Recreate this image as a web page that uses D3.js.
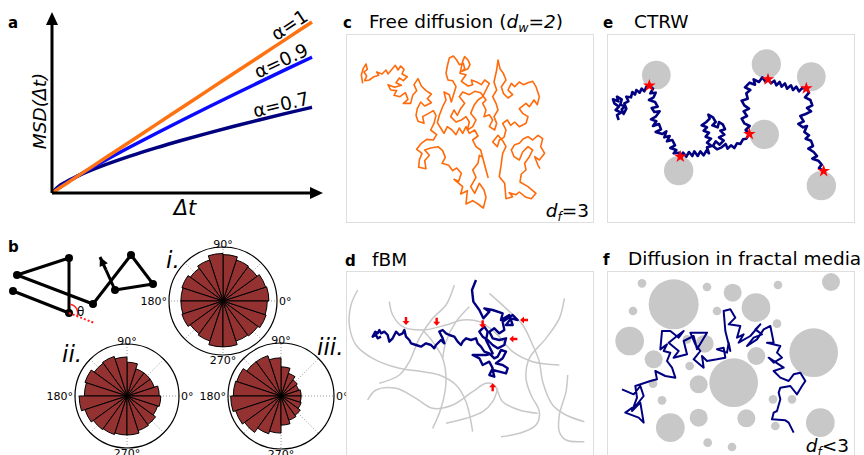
<!DOCTYPE html>
<html>
<head>
<meta charset="utf-8">
<script src="https://cdn.jsdelivr.net/npm/d3@7"></script>
<style>
body{margin:0;background:#fff;}
svg{font-family:"DejaVu Sans",sans-serif;}
</style>
</head>
<body>
<script>
// ---- panel a : MSD curves
var dtValues = [0,0.25,0.5,1,2,3,4,5,6,7,8,9,10];
var msdA1  = [0,0.25,0.5,1,2,3,4,5,6,7,8,9,10];
var msdA09 = [0,0.287,0.536,1,1.866,2.688,3.482,4.257,5.016,5.762,6.498,7.225,7.943];
var msdA07 = [0,0.379,0.616,1,1.625,2.158,2.639,3.085,3.505,3.905,4.287,4.656,5.012];
var alphaLabels = ["\u03b1=1","\u03b1=0.9","\u03b1=0.7"];

// ---- panel b : turning angle histograms (20 bins, 0..360 deg, fraction of max radius)
var histI   = [0.85,0.83,0.78,0.80,0.86,0.88,0.80,0.75,0.80,0.78,0.78,0.80,0.75,0.78,0.85,0.85,0.78,0.80,0.84,0.82];
var histII  = [0.62,0.55,0.55,0.55,0.65,0.75,0.80,0.78,0.85,0.82,0.92,0.85,0.80,0.78,0.75,0.75,0.70,0.68,0.62,0.65];
var histIII = [0.38,0.35,0.38,0.45,0.55,0.72,0.80,0.80,0.88,0.90,0.95,0.90,0.85,0.75,0.70,0.55,0.48,0.45,0.40,0.38];
var thetaLabels = ["0\u00b0","90\u00b0","180\u00b0","270\u00b0"];
var sketchPoints = [[13,291],[69,313],[69,258],[17,275],[93,304],[131,255],[153,284],[115,290],[100,257]];

// ---- panel c : free diffusion walk
var walkC = [[50,100],[46,75],[52,55],[60,42],[64,58],[54,66],[62,78],[56,92],[70,90],[84,80],[98,76],[92,66],[108,72],[120,60],[126,72],[138,58],[148,46],[156,60],[164,48],[174,58],[168,72],[184,80],[172,92],[160,84],[150,98],[166,106],[146,112],[126,104],[134,120],[152,122],[144,136],[162,140],[178,128],[186,148],[172,160],[194,160],[200,136],[212,122],[204,104],[216,86],[226,108],[240,122],[256,132],[244,146],[256,158],[236,168],[224,156],[214,176],[210,196],[216,214],[234,220],[230,200],[248,190],[262,182],[270,196],[264,220],[254,240],[272,254],[262,270],[242,268],[226,280],[212,298],[228,310],[220,330],[218,352],[240,356],[236,332],[250,316],[236,300],[254,294],[276,290],
[290,302],[298,322],[288,340],[308,346],[320,362],[332,354],[346,370],[338,394],[324,388],[350,410],[344,432],[364,422],[360,462],[380,452],[396,462],[412,474],[420,442],[414,420],[400,400],[386,430],[374,410],[390,382],[380,360],[396,340],[400,316],[410,322],[420,360],[426,382],[416,346],[404,300],[390,290],[380,270],[396,258],[386,240],[370,250],[360,230],[350,250],[340,234],[330,254],[318,240],[304,230],[294,250],[284,234],[274,218],[280,196],[290,170],[300,150],[294,126],[310,134],[316,156],[324,130],[330,110],
[320,92],[306,90],[300,70],[304,48],[310,24],[322,18],[332,30],[340,44],[352,40],[356,56],[348,64],[366,56],[372,44],[366,30],[356,20],[350,34],[342,70],[360,74],[346,94],[366,108],[380,104],[376,90],[392,96],[406,104],[416,90],[430,100],
[420,120],[410,140],[396,150],[384,166],[374,190],[390,210],[380,230],[364,240],[370,216],[360,200],[346,210],[330,216],[314,200],[324,180],[334,196],[344,176],[356,160],[340,140],[350,126],[370,134],[386,124],[404,128],[420,150],[410,160],[420,180],[414,200],[430,194],[440,210],[430,230],[446,240],
[452,220],[444,200],[456,180],[450,160],[440,140],[452,120],[444,96],[452,60],[456,30],[462,56],[472,70],[480,90],[466,110],[472,130],[486,144],[500,134],[486,120],[496,100],[506,110],[520,96],[532,104],[546,98],[560,94],[570,110],[580,140],[574,164],[564,150],[550,170],[540,160],[520,176],[530,190],[546,200],[540,220],[520,230],[506,216],[494,226],[484,210],[470,220],[480,240],[474,262],[460,270],[454,290],[440,276],[456,256],
[470,272],[480,290],[470,310],[466,340],[460,380],[476,400],[480,446],[500,440],[490,428],[510,434],[520,426],[540,442],[556,446],[570,430],[546,410],[522,396],[526,372],[540,360],[536,340],[550,320],[560,300],[546,290],[530,306],[520,330],[504,320],[496,300],[506,284],[520,280],[532,266],[546,260],[560,270],[576,256],[590,266],[584,290],[596,310],[580,330],[566,320],[576,346],[582,356]];

// ---- panel e : CTRW
var trapsE = [[148,105,43],[478,72,44],[613,110,43],[472,283,44],[215,392,44],[643,437,44]];
var starsE = [[127,137],[220,350],[427,282],[483,118],[598,145],[650,393]];
var walkE = [[35,240],[30,225],[42,218],[26,210],[36,200],[22,190],[18,178],[34,184],[30,170],[44,178],[40,194],[54,200],[44,208],[50,222],[58,206],[52,190],[64,184],[58,170],[72,172],[76,156],[84,164],[88,150],[98,158],[104,146],[112,154],[118,140],[127,137],
[138,146],[130,160],[146,158],[140,172],[126,180],[144,186],[152,200],[134,204],[142,216],[158,214],[146,230],[132,238],[148,244],[138,258],[156,252],[162,268],[146,276],[166,282],[178,274],[172,292],[188,288],[180,304],[196,300],[204,316],[190,324],[208,330],[200,340],[216,338],[220,350],
[228,338],[238,350],[246,336],[256,348],[262,334],[272,348],[280,334],[290,346],[298,332],[306,340],[300,322],[314,318],[300,308],[312,296],[296,290],[306,278],[290,272],[300,262],[284,256],[298,246],[308,236],[304,224],[318,232],[326,246],[316,256],[332,262],[336,246],[348,254],[354,268],[340,272],[352,284],[336,292],[350,302],[338,314],[326,304],[318,318],[330,328],[344,322],[356,312],[362,326],[372,316],[382,324],[390,310],[400,312],[408,298],[418,296],[427,282],
[416,270],[428,258],[412,250],[404,236],[420,228],[410,214],[426,206],[412,196],[404,182],[422,176],[418,160],[430,150],[414,142],[428,128],[444,134],[440,118],[456,126],[466,112],[476,126],[483,118],
[492,130],[502,122],[508,136],[518,126],[524,140],[534,130],[540,146],[552,136],[558,150],[568,140],[576,154],[586,144],[598,145],
[606,158],[594,172],[610,180],[616,196],[600,204],[612,214],[596,222],[580,228],[590,244],[574,252],[588,262],[600,258],[592,276],[606,286],[596,296],[612,302],[618,318],[604,326],[620,336],[630,348],[616,356],[634,362],[644,374],[636,384],[650,393]];

// ---- panel d : fBM in crowded medium
var fibresD = [
[[35,45],[15,90],[10,150],[30,210],[80,250],[160,280],[230,290],[280,300],[330,330],[360,380],[380,470]],
[[130,80],[140,120],[170,155],[230,165],[300,150],[350,135],[400,140],[450,175],[500,230],[560,260],[640,270]],
[[325,30],[300,90],[260,130],[220,190],[190,260],[160,300],[100,325]],
[[230,165],[260,200],[290,250],[300,320],[285,400],[260,460]],
[[65,375],[90,345],[150,340],[210,370],[260,400],[320,390],[380,350],[420,325],[445,330],[470,380],[520,405],[575,415]],
[[300,445],[360,430],[410,410],[440,380],[455,340]],
[[430,55],[480,100],[530,150],[560,210],[580,260],[590,320],[620,390],[660,420],[715,440]],
[[655,70],[640,130],[600,190],[550,250],[540,310],[555,360],[580,410],[570,450],[520,475],[465,485]],
[[665,300],[660,350],[640,420],[640,470],[660,495],[715,500]],
[[370,95],[330,140],[300,200],[290,250]]];
var walkD = [[390,15],[378,45],[382,80],[400,105],[412,130],[430,110],[415,100],[440,105],[470,115],[465,135],[490,120],[500,150],[480,150],[495,130],[515,135],[500,120],[470,140],[475,165],[460,175],[445,160],[430,170],[440,190],[460,195],[480,190],[475,210],[455,220],[440,210],[425,195],[410,185],[400,170],[415,155],[425,170],[420,195],[430,215],[440,235],[420,240],[380,240],[400,250],[410,270],[430,260],[440,280],[430,300],[445,305],[440,285],[460,290],[480,295],[485,280],[470,270],[450,265],[470,250],[480,230],[465,225],[455,245],[445,250],[430,235],[415,230],[405,215],[395,205],[390,190],[375,195],[360,190],[350,200],[345,210],[335,200],[325,185],[310,180],[300,175],[290,165],[280,170],[290,190],[295,205],[285,195],[270,210],[265,220],[255,210],[240,205],[225,215],[210,210],[195,205],[190,195],[180,185],[175,165],[170,175],[160,180],[150,170],[140,190],[130,200],[125,180],[115,170],[105,175],[100,165],[95,175],[88,170],[80,185],[90,180],[95,190],[105,185]];
var arrowsD = [[180,150,90],[272,152,90],[410,160,90],[522,135,180],[490,192,180],[440,325,270]];

// ---- panel f : fractal medium
var obstaclesF = [[200,100,75],[105,37,13],[300,48,13],[377,65,27],[513,42,13],[672,33,27],[78,120,13],[447,110,43],[330,120,13],[68,210,43],[510,158,13],[620,245,73],[140,265,27],[293,218,27],[380,335,73],[448,255,27],[248,285,13],[275,340,27],[138,338,13],[165,388,13],[190,470,43],[275,440,27],[418,442,27],[498,385,13],[555,385,13],[640,455,43],[302,515,13],[375,528,13],[505,465,13],[240,205,13]];
var walkF = [[45,355],[80,370],[100,345],[110,375],[90,400],[55,425],[95,440],[110,455],[100,395],[75,420],[90,380],[85,345],[130,330],[150,325],[145,300],[175,315],[205,320],[195,290],[180,270],[190,245],[170,240],[180,220],[160,235],[165,180],[190,180],[215,200],[230,180],[210,195],[185,215],[215,240],[200,260],[240,250],[230,210],[260,195],[270,235],[300,185],[250,185],[265,220],[280,240],[260,265],[290,290],[285,255],[300,270],[330,265],[355,260],[350,230],[330,235],[360,245],[365,215],[370,240],[355,180],[350,120],[370,115],[385,140],[365,160],[400,165],[390,200],[410,190],[395,215],[430,195],[460,160],[445,175],[465,190],[440,200],[420,225],[450,205],[470,175],[490,165],[500,215],[480,215],[520,225],[510,245],[525,260],[500,275],[485,260],[530,290],[500,300],[520,320],[545,330],[560,310],[580,305],[595,330],[585,345],[570,370],[550,345],[520,350],[515,365],[520,385],[510,420],[500,425],[495,445],[535,448],[545,455],[560,485]];

var W = 864, H = 455;
var svg = d3.select("body").append("svg").attr("width", W).attr("height", H);

function panelLetter(x, y, t){
  svg.append("text").attr("x", x).attr("y", y).attr("font-size", 15).attr("font-weight", "bold").text(t);
}

// =========== a
var xA = d3.scaleLinear().domain([0,10]).range([52,312]);
var yA = d3.scaleLinear().domain([0,10]).range([193,22]);
panelLetter(8, 28, "a");
var lineA = d3.line().x(function(d){return xA(d[0]);}).y(function(d){return yA(d[1]);}).curve(d3.curveMonotoneX);
var seriesA = [msdA07, msdA09, msdA1];
var colorsA = ["#00007f","#0a0aff","#ff7212"];
var labelsA = [alphaLabels[2], alphaLabels[1], alphaLabels[0]];
seriesA.forEach(function(s, k){
  var pts = dtValues.map(function(t,i){return [t, s[i]];});
  svg.append("path").attr("d", lineA(pts)).attr("fill","none").attr("stroke", colorsA[k]).attr("stroke-width", 3.5);
  var n = pts.length;
  var x1 = xA(pts[n-2][0]), y1 = yA(pts[n-2][1]), x2 = xA(pts[n-1][0]), y2 = yA(pts[n-1][1]);
  var ang = Math.atan2(y2-y1, x2-x1)*180/Math.PI;
  svg.append("text").attr("transform","translate("+(x2-1)+","+y2+") rotate("+ang+")")
    .attr("text-anchor","end").attr("dy", -3).attr("font-size", 18.5).text(labelsA[k]);
});
// axes with arrows
svg.append("line").attr("x1", xA(0)).attr("y1", yA(0)).attr("x2", xA(0)).attr("y2", 22).attr("stroke","#000").attr("stroke-width",3);
svg.append("line").attr("x1", xA(0)).attr("y1", yA(0)).attr("x2", 314).attr("y2", yA(0)).attr("stroke","#000").attr("stroke-width",3);
svg.append("path").attr("d","M"+(xA(0)-6)+",25L"+xA(0)+",12L"+(xA(0)+6)+",25Z").attr("fill","#000");
svg.append("path").attr("d","M310,"+(yA(0)-6)+"L323,"+yA(0)+"L310,"+(yA(0)+6)+"Z").attr("fill","#000");
svg.append("text").attr("transform","translate(46,111) rotate(-90)").attr("text-anchor","middle")
  .attr("font-size",18.5).attr("font-style","italic").text("MSD(\u0394t)");
svg.append("text").attr("x",185).attr("y",215).attr("text-anchor","middle").attr("font-size",21).attr("font-style","italic").text("\u0394t");

// =========== b
panelLetter(8, 252, "b");
var gb = svg.append("g");
var segs = sketchPoints.slice(0, 8);
gb.append("path").attr("d", d3.line()(sketchPoints.slice(0,8).concat([[106,270]])))
  .attr("fill","none").attr("stroke","#000").attr("stroke-width",3).attr("stroke-linejoin","round");
// arrow head at end
var tip = sketchPoints[8], from = sketchPoints[7];
var ax = Math.atan2(tip[1]-from[1], tip[0]-from[0]);
gb.append("path").attr("d", d3.line()([[106,270],[tip[0],tip[1]]])).attr("stroke","#000").attr("stroke-width",3);
gb.append("path").attr("transform","translate("+tip[0]+","+tip[1]+") rotate("+(ax*180/Math.PI)+")")
  .attr("d","M0,0L-9,-4.5L-9,4.5Z").attr("fill","#000");
gb.selectAll("circle").data(segs).enter().append("circle")
  .attr("cx",function(d){return d[0];}).attr("cy",function(d){return d[1];}).attr("r",4).attr("fill","#000");
// turning angle
var p0 = sketchPoints[0], p1 = sketchPoints[1];
var dir = Math.atan2(p1[1]-p0[1], p1[0]-p0[0]);
gb.append("line").attr("x1",p1[0]).attr("y1",p1[1]).attr("x2",p1[0]+28*Math.cos(dir)).attr("y2",p1[1]+28*Math.sin(dir))
  .attr("stroke","#ff2020").attr("stroke-width",2).attr("stroke-dasharray","2,2");
var arcB = d3.arc().innerRadius(8).outerRadius(9.5).startAngle(0.1).endAngle(Math.PI/2 + dir + 0.05);
gb.append("path").attr("transform","translate("+p1[0]+","+p1[1]+")").attr("d", arcB).attr("fill","#ff2020");
gb.append("text").attr("x",77).attr("y",316).attr("font-size",12).text("\u03b8");

function polar(cx, cy, R, hist, tag, tagX, tagY){
  var g = svg.append("g").attr("transform","translate("+cx+","+cy+")");
  var r = d3.scaleLinear().domain([0,1]).range([0,R]);
  var n = hist.length, step = 2*Math.PI/n;
  var arc = d3.arc().innerRadius(0);
  // grid
  d3.range(0,360,45).forEach(function(a){
    var t = a*Math.PI/180;
    g.append("line").attr("x1",0).attr("y1",0).attr("x2",R*Math.cos(t)).attr("y2",-R*Math.sin(t))
      .attr("stroke","#999").attr("stroke-width",1).attr("stroke-dasharray","1,2");
  });
  hist.forEach(function(v,i){
    var t1 = i*step, t2 = (i+1)*step;
    g.append("path").attr("d", arc({outerRadius: r(v), startAngle: Math.PI/2 - t2, endAngle: Math.PI/2 - t1}))
      .attr("fill","#943232").attr("stroke","#000").attr("stroke-width",1);
  });
  g.append("circle").attr("r",R).attr("fill","none").attr("stroke","#000").attr("stroke-width",1.2);
  g.append("text").attr("x",0).attr("y",-R+1).attr("text-anchor","middle").attr("font-size",11).text(thetaLabels[1]);
  g.append("text").attr("x",0).attr("y",R+9).attr("text-anchor","middle").attr("font-size",11).text(thetaLabels[3]);
  g.append("text").attr("x",R+2).attr("y",4).attr("text-anchor","start").attr("font-size",11).text(thetaLabels[0]);
  g.append("text").attr("x",-R-2).attr("y",4).attr("text-anchor","end").attr("font-size",11).text(thetaLabels[2]);
  svg.append("text").attr("x",tagX).attr("y",tagY).attr("font-size",23).attr("font-style","italic").text(tag);
}
polar(223, 301, 54, histI, "i.", 166, 268);
polar(127, 396, 52, histII, "ii.", 62, 362);
polar(281, 396, 53, histIII, "iii.", 317, 355);

// =========== boxes
function box(x, y, w, h){
  svg.append("rect").attr("x",x+0.5).attr("y",y+0.5).attr("width",w).attr("height",h)
    .attr("fill","#fff").attr("stroke","#dedede").attr("stroke-width",1);
}
box(346,34,247,188); box(607,34,247,188); box(346,271,247,200); box(607,271,247,200);

function scales(ox, oy, w, h){
  return {x: d3.scaleLinear().domain([0,w]).range([ox, ox+w/3]),
          y: d3.scaleLinear().domain([0,h]).range([oy, oy+h/3])};
}

// =========== c
var sc = scales(346,50,600,510);
var lineC = d3.line().x(function(d){return sc.x(d[0]);}).y(function(d){return sc.y(d[1]);});
svg.append("path").attr("d", lineC(walkC)).attr("fill","none").attr("stroke","#ff6a0a").attr("stroke-width",1.6).attr("stroke-linejoin","round");
panelLetter(343, 28, "c");
var tc = svg.append("text").attr("x",369).attr("y",28).attr("font-size",18.5);
tc.append("tspan").text("Free diffusion (");
tc.append("tspan").attr("font-style","italic").text("d");
tc.append("tspan").attr("font-style","italic").attr("font-size",12.5).attr("dy",4).text("w");
tc.append("tspan").attr("font-style","italic").attr("dy",-4).text("=2");
tc.append("tspan").text(")");
var dc = svg.append("text").attr("x",589).attr("y",217).attr("text-anchor","end").attr("font-size",18.5);
dc.append("tspan").attr("font-style","italic").text("d");
dc.append("tspan").attr("font-style","italic").attr("font-size",12).attr("dy",4).text("f");
dc.append("tspan").attr("dy",-4).text("=3");

// =========== e
var se = scales(607,40,690,510);
svg.append("g").selectAll("circle").data(trapsE).enter().append("circle")
  .attr("cx",function(d){return se.x(d[0]);}).attr("cy",function(d){return se.y(d[1]);})
  .attr("r",function(d){return se.x(d[2])-se.x(0);}).attr("fill","#c8c8c8");
var lineE = d3.line().x(function(d){return se.x(d[0]);}).y(function(d){return se.y(d[1]);});
svg.append("path").attr("d", lineE(walkE)).attr("fill","none").attr("stroke","#000080").attr("stroke-width",2.6).attr("stroke-linejoin","round");
svg.append("g").selectAll("path").data(starsE).enter().append("path")
  .attr("transform",function(d){return "translate("+se.x(d[0])+","+se.y(d[1])+")";})
  .attr("d", d3.symbol(d3.symbolStar, 50)).attr("fill","#ff0000");
panelLetter(603, 28, "e");
svg.append("text").attr("x",634).attr("y",28).attr("font-size",18.5).text("CTRW");

// =========== d
var sd = scales(346,275,720,540);
var lineD = d3.line().x(function(d){return sd.x(d[0]);}).y(function(d){return sd.y(d[1]);});
var gD = svg.append("g");
fibresD.forEach(function(f){
  gD.append("path").attr("d", lineD.curve(d3.curveCatmullRom)(f)).attr("fill","none").attr("stroke","#c8c8c8").attr("stroke-width",1.5);
});
lineD.curve(d3.curveLinear);
gD.append("path").attr("d", lineD(walkD)).attr("fill","none").attr("stroke","#000080").attr("stroke-width",2.4).attr("stroke-linejoin","round");
gD.selectAll(".arr").data(arrowsD).enter().append("path").attr("class","arr")
  .attr("transform",function(d){return "translate("+sd.x(d[0])+","+sd.y(d[1])+") rotate("+d[2]+")";})
  .attr("d","M0,0L-4,-3.5L-4,-1.2L-8,-1.2L-8,1.2L-4,1.2L-4,3.5Z").attr("fill","#ff0000");
panelLetter(345, 266, "d");
svg.append("text").attr("x",372).attr("y",266).attr("font-size",18.5).text("fBM");

// =========== f
var sf = scales(607,271,741,552);
svg.append("g").selectAll("circle").data(obstaclesF).enter().append("circle")
  .attr("cx",function(d){return sf.x(d[0]);}).attr("cy",function(d){return sf.y(d[1]);})
  .attr("r",function(d){return sf.x(d[2])-sf.x(0);}).attr("fill","#c8c8c8");
var lineF = d3.line().x(function(d){return sf.x(d[0]);}).y(function(d){return sf.y(d[1]);});
svg.append("path").attr("d", lineF(walkF)).attr("fill","none").attr("stroke","#000080").attr("stroke-width",2).attr("stroke-linejoin","round");
panelLetter(603, 265, "f");
svg.append("text").attr("x",628).attr("y",265).attr("font-size",18.5).text("Diffusion in fractal media");
var df = svg.append("text").attr("x",849).attr("y",452).attr("text-anchor","end").attr("font-size",18.5);
df.append("tspan").attr("font-style","italic").text("d");
df.append("tspan").attr("font-style","italic").attr("font-size",12).attr("dy",4).text("f");
df.append("tspan").attr("dy",-4).text("<3");
</script>
</body>
</html>
